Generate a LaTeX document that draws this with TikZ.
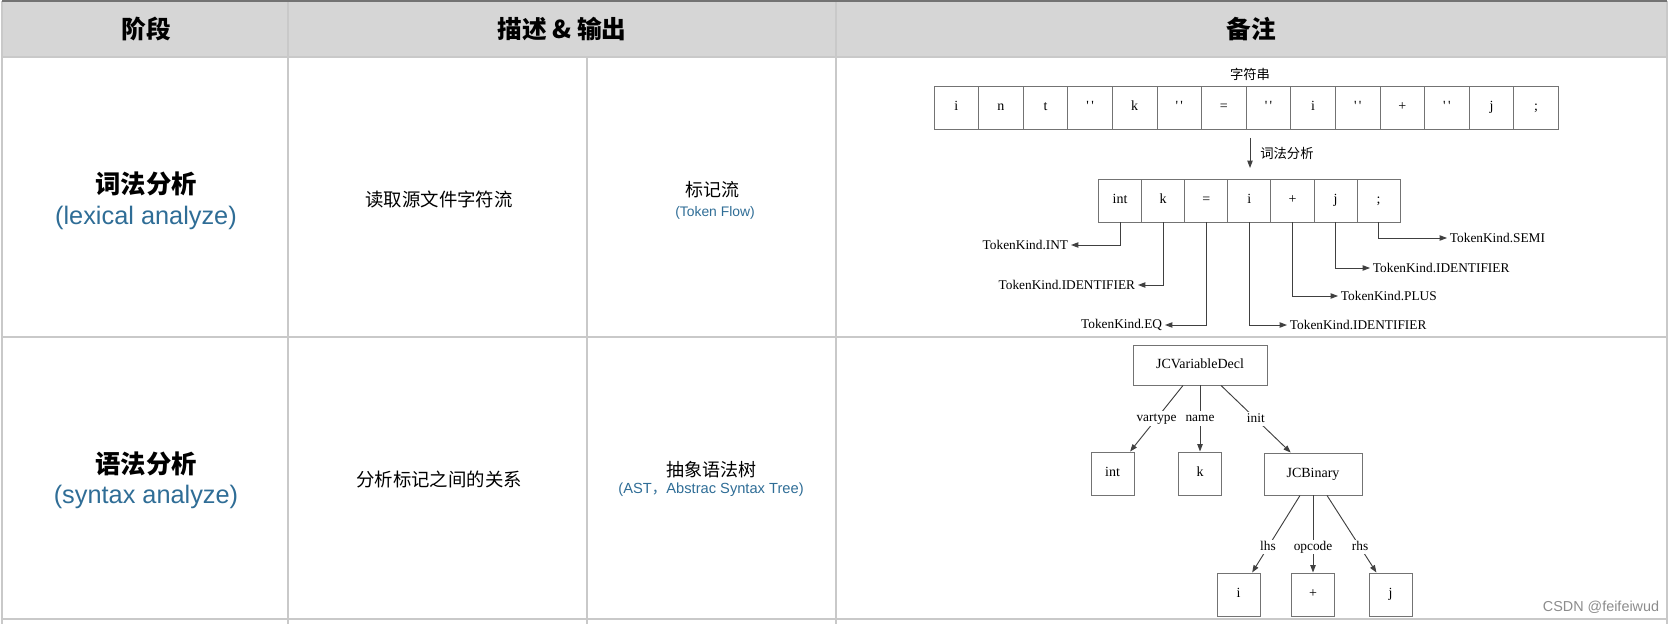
\documentclass[tikz,border=0pt]{standalone}
\usepackage{fontspec}
\setmainfont{Liberation Serif}
\newfontfamily\cjk{Noto Sans CJK SC}
\newfontfamily\lat{Liberation Sans}
\usetikzlibrary{arrows.meta,calc}
\definecolor{racs}{HTML}{C9C9C9}
\definecolor{fejc}{HTML}{D6D6D6}
\definecolor{kek}{HTML}{2F6D96}
\newcommand{\qmark}{\textquotesingle\,\textquotesingle}
\tikzset{
  grid/.style={draw=racs,line width=1.1pt},
  cellbox/.style={draw=black!55,line width=0.7pt,minimum width=33.45pt,minimum height=32.25pt,
    inner sep=0pt,text height=7pt,text depth=2pt,font=\fontsize{10.5}{12}\selectfont},
  tokbox/.style={cellbox,minimum width=32.3pt},
  astbox/.style={cellbox,minimum width=32.25pt},
  elab/.style={fill=white,inner sep=1pt,text height=7pt,text depth=2pt,font=\fontsize{10}{12}\selectfont},
  kind/.style={inner sep=2pt,font=\fontsize{10}{12}\selectfont},
  arr/.style={draw=black!75,line width=0.7pt,-{Triangle[length=5.5pt,width=4pt]}},
  head/.style={font=\cjk\bfseries\fontsize{18.5}{22}\selectfont},
  stage/.style={font=\cjk\bfseries\fontsize{19}{22}\selectfont},
  eng/.style={font=\lat\fontsize{19}{22}\selectfont,text=kek},
  desc/.style={font=\cjk\fontsize{13.8}{16}\selectfont},
  note/.style={font=\cjk\fontsize{10}{12}\selectfont},
}
\begin{document}
\begin{tikzpicture}[x=0.75pt,y=-0.75pt]
  \useasboundingbox (0,0) rectangle (1674,624);
  \fill[fejc] (2,1) rectangle (1667,57);
  \foreach \y in {57,337,619} \draw[grid] (2,\y) -- (1667,\y);
  \foreach \x in {2,288,836,1667} \draw[grid] (\x,1) -- (\x,624);
  \draw[grid] (587,57) -- (587,624);
  \draw[black!55,line width=1.3pt] (2,1) -- (1667,1);
  \node[head] (h1) at (146,29) {阶段};
  \node[head] (h2) at (562,29) {描述 \& 输出};
  \node[head] (h3) at (1251,29) {备注};
  \node[stage] (lex) at (146,184) {词法分析};
  \node[eng] (lexen) at (146,218) {(lexical analyze)};
  \node[desc] (lexd) at (439,199) {读取源文件字符流};
  \node[desc,font=\cjk\fontsize{13.5}{16}\selectfont] (lexo) at (712,190) {标记流};
  \node[font=\lat\fontsize{10.4}{12}\selectfont,text=kek] (lexoen) at (715,213) {(Token Flow)};
  \node[stage] (syn) at (146,464) {语法分析};
  \node[eng] (synen) at (146,497) {(syntax analyze)};
  \node[desc] (synd) at (439,479) {分析标记之间的关系};
  \node[desc,font=\cjk\fontsize{13.5}{16}\selectfont] (syno) at (711,470) {抽象语法树};
  \node[font=\lat\fontsize{11}{12}\selectfont,text=kek] (synoen) at (711,490) {(AST{\cjk ，}Abstrac Syntax Tree)};
  \node[note] (str) at (1250,74) {字符串};
  \foreach \c [count=\i] in {i,n,t,\qmark,k,\qmark,=,\qmark,i,\qmark,+,\qmark,j,;}
    \node[cellbox] (s\i) at ({934+44.6*(\i-0.5)},107.5) {\c};
  \coordinate (la) at (1250,138);
  \coordinate (lb) at (1250,168);
  \draw[arr] (la) -- node[note,right,xshift=4pt] {词法分析} (lb);
  \foreach \c [count=\i] in {int,k,=,i,+,j,;}
    \node[tokbox] (t\i) at ({1098.5+43.1*(\i-0.5)},200.5) {\c};
  \node[kind,anchor=east] (k1) at (1071,245) {TokenKind.INT};
  \node[kind,anchor=east] (k2) at (1138,285) {TokenKind.IDENTIFIER};
  \node[kind,anchor=east] (k3) at (1165,325) {TokenKind.EQ};
  \node[kind,anchor=west] (k4) at (1287,325) {TokenKind.IDENTIFIER};
  \node[kind,anchor=west] (k5) at (1338,296) {TokenKind.PLUS};
  \node[kind,anchor=west] (k6) at (1370,268) {TokenKind.IDENTIFIER};
  \node[kind,anchor=west] (k7) at (1447,238) {TokenKind.SEMI};
  \foreach \i/\s in {1/east,2/east,3/east,4/west,5/west,6/west,7/west}
    \draw[arr] (t\i.south) |- (k\i.\s);
  \node[astbox,minimum width=100.5pt,minimum height=30pt] (decl) at (1200,365) {JCVariableDecl};
  \node[astbox] (vint) at (1112.5,473.5) {int};
  \node[astbox] (vk) at (1200,473.5) {k};
  \node[astbox,minimum width=73.5pt,minimum height=31.5pt] (bin) at (1313,474) {JCBinary};
  \node[astbox] (li) at (1238.5,594.5) {i};
  \node[astbox] (op) at (1313,594.5) {+};
  \node[astbox] (rj) at (1390.5,594.5) {j};
  \draw[arr] ($(decl.south)+(-17,0)$) -- node[elab] {vartype} (vint);
  \draw[arr] (decl.south) -- node[elab] {name} (vk);
  \draw[arr] ($(decl.south)+(21,0)$) -- node[elab] {init} (bin);
  \draw[arr] ($(bin.south)+(-13,0)$) -- node[elab,pos=0.67] {lhs} (li);
  \draw[arr] (bin.south) -- node[elab,pos=0.67] {opcode} (op);
  \draw[arr] ($(bin.south)+(14,0)$) -- node[elab,pos=0.67] {rhs} (rj);
  \node[font=\lat\fontsize{10.8}{12}\selectfont,text=black!45] (wm) at (1601,607) {CSDN @feifeiwud};
\end{tikzpicture}
\end{document}
